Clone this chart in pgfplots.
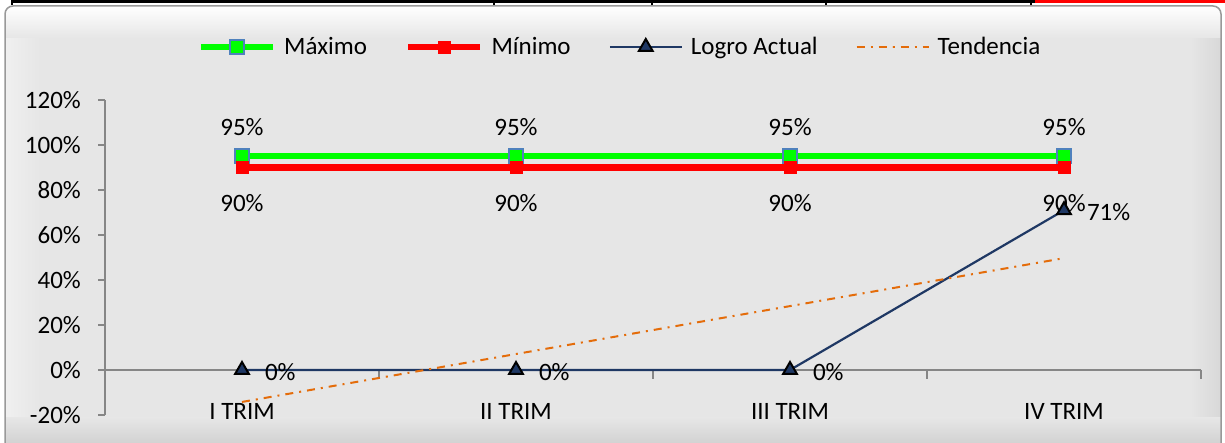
\documentclass[border=0pt]{standalone}
\usepackage{pgfplots}
\pgfplotsset{compat=1.18}
\usepackage{fontspec}
\setmainfont{Carlito}
\definecolor{cgreen}{HTML}{00FF00}
\definecolor{cred}{HTML}{FF0000}
\definecolor{cnavy}{HTML}{1F3864}
\definecolor{corange}{HTML}{E46C0A}
\definecolor{cbord}{HTML}{4F81BD}
\definecolor{caxis}{HTML}{868686}
\definecolor{bgmain}{HTML}{E6E6E6}
\definecolor{bgleft}{HTML}{F0F0F0}
\definecolor{bgbot}{HTML}{D2D2D2}
\definecolor{bgright}{HTML}{D8D8D8}
\newcommand\chartfont{\fontsize{25bp}{30bp}\selectfont}
\pgfplotsset{
  mylegend/.style={legend image code/.code={%
    \draw[mark repeat=2,mark phase=2,##1] plot coordinates {(0bp,0bp) (36bp,0bp) (72bp,0bp)};}},
}
\begin{document}
\begin{tikzpicture}[x=1bp,y=1bp]
\useasboundingbox (0,0) rectangle (1225,443);
\begin{scope}
\clip (0,0) rectangle (1225,443);
\fill[white] (0,0) rectangle (1225,443);
% spreadsheet strip at top
\fill[black] (12,440) rectangle (1035,443);
\fill[cred] (1035,440) rectangle (1225,443);
\fill[black] (11,438) rectangle (13,443);
\fill[black] (493,438) rectangle (495,443);
\fill[black] (651,438) rectangle (653,443);
\fill[black] (825,438) rectangle (827,443);
\fill[black] (1030,438) rectangle (1032,443);
% chart area
\begin{scope}
\clip[rounded corners=8bp] (5,-12) rectangle (1221,437);
\fill[bgmain] (5,-12) rectangle (1221,437);
\shade[left color=bgleft, right color=bgmain] (5,-12) rectangle (40,437);
\shade[left color=bgmain, right color=bgright] (1190,-12) rectangle (1221,437);
\shade[top color=bgmain, bottom color=bgbot] (5,0) rectangle (1221,25);
\shade[top color=white, bottom color=bgmain] (5,405) rectangle (1221,437);
\end{scope}
\draw[line width=1.5bp, draw=gray!80, rounded corners=8bp] (5,-12) rectangle (1221,437);
\end{scope}
\begin{axis}[
  at={(105bp,28bp)}, anchor=south west,
  scale only axis, width=1096bp, height=315bp,
  xmin=-0.5, xmax=3.5, ymin=-20, ymax=120,
  xtick={0,1,2,3}, xticklabels={I TRIM, II TRIM, III TRIM, IV TRIM},
  ytick={-20,0,20,40,60,80,100,120},
  yticklabel={\pgfmathprintnumber[assume math mode=true]{\tick}\%},
  axis line style={draw=none},
  ytick pos=left, xtick pos=bottom,
  x tick style={draw=none},
  y tick style={draw=caxis, line width=1.5bp},
  tick align=outside, major tick length=7bp,
  tick label style={font=\chartfont},
  yticklabel style={anchor=east, inner sep=0pt, xshift=-17bp},
  xticklabel style={anchor=base, inner sep=0pt, yshift=2bp},
  clip=false,
  mylegend,
  legend columns=4,
  legend style={at={(0.5,1)}, anchor=center, xshift=-33bp, yshift=53bp,
    draw=none, fill=none, font=\chartfont,
    /tikz/every odd column/.append style={column sep=6bp},
    /tikz/every even column/.append style={column sep=36bp}},
  every node near coord/.append style={font=\chartfont, text=black, inner sep=0pt},
]
\draw[caxis, line width=1.5bp] (axis cs:-0.5,0) -- (axis cs:3.5,0);
\draw[caxis, line width=1.5bp] (axis cs:-0.5,-20) -- (axis cs:-0.5,120);
\draw[caxis, line width=1.5bp] (axis cs:0.5,0) -- (axis cs:0.5,-4);
\draw[caxis, line width=1.5bp] (axis cs:1.5,0) -- (axis cs:1.5,-4);
\draw[caxis, line width=1.5bp] (axis cs:2.5,0) -- (axis cs:2.5,-4);
\draw[caxis, line width=1.5bp] (axis cs:3.5,0) -- (axis cs:3.5,-4);
\addplot[cgreen, line width=6.5bp, mark=square*, mark size=7bp,
  mark options={fill=cgreen, draw=cbord, line width=1.5bp},
  nodes near coords={\pgfmathprintnumber[assume math mode=true]{\pgfplotspointmeta}\%},
  every node near coord/.append style={anchor=center, yshift=29bp}]
  coordinates {(0,95) (1,95) (2,95) (3,95)};
\addlegendentry{Máximo}
\addplot[cred, line width=6.5bp, mark=square*, mark size=6bp,
  mark options={fill=cred, draw=cred, line width=0.5bp},
  nodes near coords={\pgfmathprintnumber[assume math mode=true]{\pgfplotspointmeta}\%},
  every node near coord/.append style={anchor=center, yshift=-36bp}]
  coordinates {(0,90) (1,90) (2,90) (3,90)};
\addlegendentry{Mínimo}
\addplot[cnavy, line width=2.2bp, mark=triangle*, mark size=8bp,
  mark options={fill=cnavy, draw=black, line width=2bp},
  nodes near coords={\pgfmathprintnumber[assume math mode=true]{\pgfplotspointmeta}\%},
  every node near coord/.append style={anchor=west, xshift=22bp, yshift=-2bp}]
  coordinates {(0,0) (1,0) (2,0) (3,71)};
\addlegendentry{Logro Actual}
\addplot[corange, line width=2bp, dash pattern=on 8bp off 6bp on 2bp off 6bp]
  coordinates {(0,-14.2) (3,49.7)};
\addlegendentry{Tendencia}
\end{axis}
\end{tikzpicture}
\end{document}
